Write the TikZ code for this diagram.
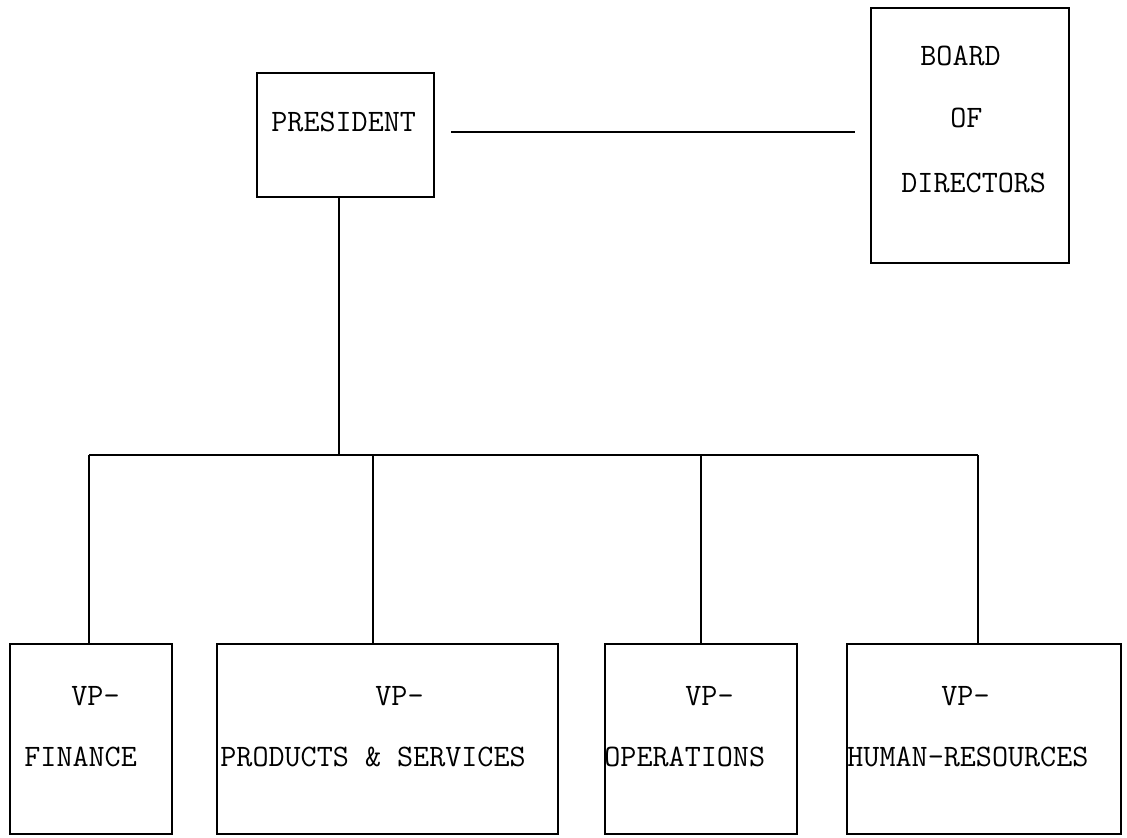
\documentclass[tikz,border=0pt]{standalone}
\usepackage{fontspec}
\begin{document}
\begin{tikzpicture}[x=0.5pt,y=-0.5pt,
  orgbox/.style={draw, rectangle, inner sep=0pt, outer sep=0pt, line width=1.3pt},
  label/.style={anchor=west, inner sep=0pt, font=\ttfamily\fontsize{15.6}{18}\selectfont},
  link/.style={line width=1.3pt}]
\useasboundingbox (0,0) rectangle (1127,837);

% boxes
\node[orgbox, minimum width=88.5pt, minimum height=62pt]   (pres)  at (345.5,135) {};
\node[orgbox, minimum width=99pt,   minimum height=127.5pt] (board) at (970,135.5) {};
\node[orgbox, minimum width=81pt,   minimum height=95pt]   (fin)   at (91,739)    {};
\node[orgbox, minimum width=170.5pt,minimum height=95pt]   (prod)  at (387.5,739) {};
\node[orgbox, minimum width=96pt,   minimum height=95pt]   (ops)   at (701,739)   {};
\node[orgbox, minimum width=137pt,  minimum height=95pt]   (hr)    at (984,739)   {};

% box texts
\node[label] (tpres)  at (271,122) {PRESIDENT};
\node[label] (tboard) at (920,56)  {BOARD};
\node[label] (tof)    at (950,118) {OF};
\node[label] (tdir)   at (901,183) {DIRECTORS};
\node[label] (tfin1)  at (71,696)  {VP-};
\node[label] (tfin2)  at (24,757)  {FINANCE};
\node[label] (tprod1) at (375,696) {VP-};
\node[label] (tprod2) at (220,757) {PRODUCTS \& SERVICES};
\node[label] (tops1)  at (685,696) {VP-};
\node[label] (tops2)  at (604,757) {OPERATIONS};
\node[label] (thr1)   at (941,696) {VP-};
\node[label] (thr2)   at (847,757) {HUMAN-RESOURCES};

% junctions on the distribution bar
\coordinate (jtop)  at (339,455);
\coordinate (jfin)  at (89,455);
\coordinate (jprod) at (373,455);
\coordinate (jops)  at (701,455);
\coordinate (jhr)   at (978,455);

% president to board
\draw[link, shorten <=8.5pt, shorten >=8pt] (pres.east |- 0,132) -- (board.west |- 0,132);

% president down to the bar, and the bar itself
\draw[link] (jtop |- pres.south) -- (jtop);
\draw[link] (jfin) -- (jhr);

% drops to the vice presidents
\draw[link] (jfin)  -- (jfin  |- fin.north);
\draw[link] (jprod) -- (jprod |- prod.north);
\draw[link] (jops)  -- (jops  |- ops.north);
\draw[link] (jhr)   -- (jhr   |- hr.north);
\end{tikzpicture}
\end{document}
